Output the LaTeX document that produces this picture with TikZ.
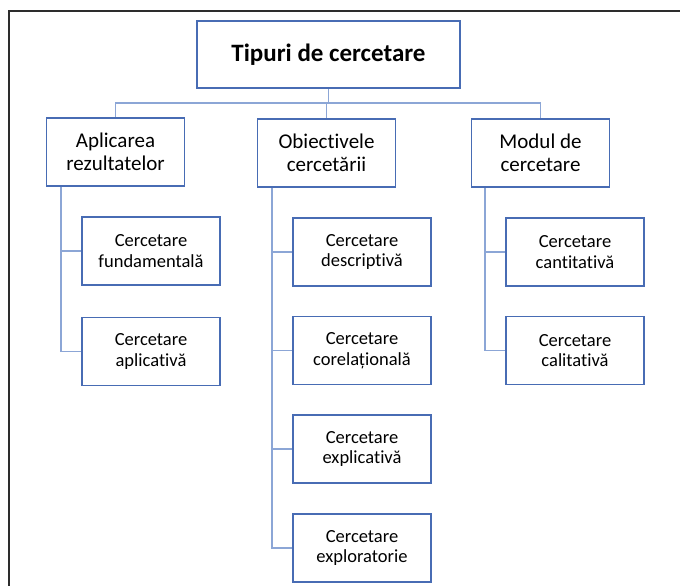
\documentclass[tikz,border=0pt]{standalone}
\usepackage{fontspec}
\setmainfont[Ligatures=NoCommon]{Carlito}
\usetikzlibrary{positioning}
\definecolor{boxblue}{RGB}{72,108,180}
\definecolor{linkblue}{RGB}{140,166,214}
\definecolor{framegray}{RGB}{45,45,45}
\tikzset{
 tipbox/.style={draw=boxblue, line width=1.6pt, rectangle, align=center, inner sep=0pt},
 rootbox/.style={tipbox, minimum width=263pt, minimum height=67pt, font=\fontsize{25}{28}\selectfont\bfseries},
 catbox/.style={tipbox, minimum width=138pt, minimum height=68pt, font=\fontsize{21}{23}\selectfont},
 subbox/.style={tipbox, minimum width=138pt, minimum height=68pt, font=\fontsize{18.5}{20.5}\selectfont},
 link/.style={draw=linkblue, line width=1.6pt}
}

\begin{document}
\begin{tikzpicture}[x=1pt, y=-1pt]
 \useasboundingbox (0,0) rectangle (680,586);
 \draw[framegray, line width=1.8pt] (9,586) -- (9,11) -- (680,11);
 \node[rootbox] (root) at (328.5,54.5) {Tipuri de cercetare};
 \node[catbox] (apl) at (115.5,152) {Aplicarea\\rezultatelor};
 \node[catbox] (obj) at (326.5,153) {Obiectivele\\cercetării};
 \node[catbox] (mod) at (540.5,153) {Modul de\\cercetare};
 \node[subbox] (fund) at (151,251) {Cercetare\\fundamentală};
 \node[subbox, below=31pt of fund] (aplic) {Cercetare\\aplicativă};
 \node[subbox] (descr) at (362,252) {Cercetare\\descriptivă};
 \node[subbox, below=29pt of descr] (corel) {Cercetare\\corelațională};
 \node[subbox, below=29pt of corel] (expli) {Cercetare\\explicativă};
 \node[subbox, below=29pt of expli] (explo) {Cercetare\\exploratorie};
 \node[subbox] (cant) at (575,252) {Cercetare\\cantitativă};
 \node[subbox, below=29pt of cant] (calit) {Cercetare\\calitativă};
 \draw[link] (root.south) --++ (0,14) coordinate (bar) -| (apl.north);
 \draw[link] (bar) -| (mod.north);
 \draw[link] (bar) -| (obj.north);
 \draw[link] ([xshift=15pt]apl.south west) |- (fund.west);
 \draw[link] ([xshift=15pt]apl.south west) |- (aplic.west);
 \draw[link] ([xshift=15pt]obj.south west) |- (descr.west);
 \draw[link] ([xshift=15pt]obj.south west) |- (corel.west);
 \draw[link] ([xshift=15pt]obj.south west) |- (expli.west);
 \draw[link] ([xshift=15pt]obj.south west) |- (explo.west);
 \draw[link] ([xshift=14pt]mod.south west) |- (cant.west);
 \draw[link] ([xshift=14pt]mod.south west) |- (calit.west);
\end{tikzpicture}
\end{document}
